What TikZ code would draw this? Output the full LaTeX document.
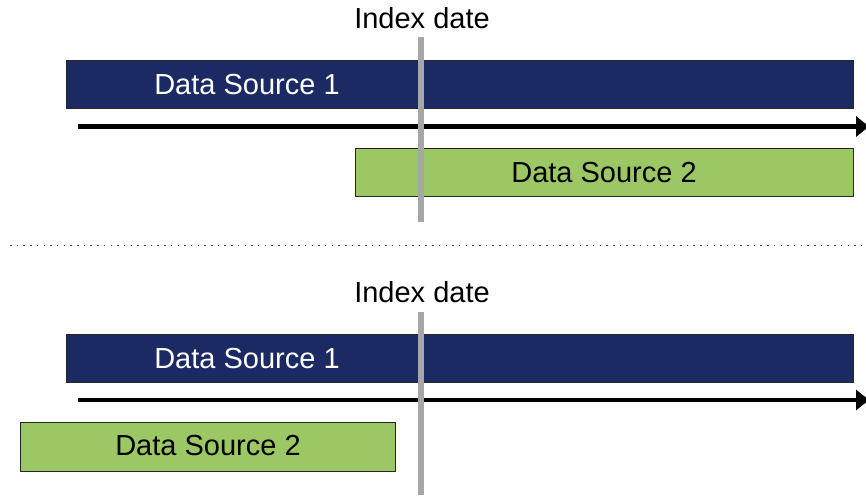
\documentclass[tikz,border=0pt]{standalone}
\usepackage{fontspec}
\setmainfont{Liberation Sans}
\usetikzlibrary{arrows.meta}
\definecolor{navy}{HTML}{1B2A62}
\definecolor{leaf}{HTML}{9BC764}
\definecolor{marker}{HTML}{A6A6A6}
\tikzset{
  bar/.style={draw=black!85, line width=1pt, anchor=north west, inner sep=0pt},
  navybar/.style={bar, fill=navy},
  leafbar/.style={bar, fill=leaf},
  label/.style={font=\fontsize{29}{32}\selectfont},
  timeline/.style={line width=4.5pt, -{Triangle[length=13pt, width=20pt]}},
  indexline/.style={draw=marker, line width=6pt},
}
\begin{document}
\begin{tikzpicture}[x=1pt, y=-1pt]
  \useasboundingbox (0,0) rectangle (866,495);

  % upper scenario: source 2 starts before the index date
  \node[navybar, minimum width=787pt, minimum height=48pt] (s1a) at (66,60) {};
  \node[label, text=white] (t1a) at (247,85) {Data Source 1};
  \coordinate (a0) at (78,126.5);
  \coordinate (a1) at (869,126.5);
  \draw[timeline] (a0) -- (a1);
  \node[leafbar, minimum width=498pt, minimum height=48pt] (s2a) at (355,148) {};
  \node[label] (t2a) at (604,173) {Data Source 2};
  \node[label] (ia) at (422,18) {Index date};
  \coordinate (ga0) at (421,37);
  \coordinate (ga1) at (421,222);
  \draw[indexline] (ga0) -- (ga1);

  % separator
  \coordinate (d0) at (10,245.5);
  \coordinate (d1) at (866,245.5);
  \draw[black!70, line width=1.5pt, dash pattern=on 1.5pt off 5.2pt] (d0) -- (d1);

  % lower scenario: source 2 ends after the index date
  \node[navybar, minimum width=787pt, minimum height=48pt] (s1b) at (66,334) {};
  \node[label, text=white] (t1b) at (247,359) {Data Source 1};
  \coordinate (b0) at (78,400);
  \coordinate (b1) at (869,400);
  \draw[timeline] (b0) -- (b1);
  \node[leafbar, minimum width=375pt, minimum height=49pt] (s2b) at (20,422) {};
  \node[label] (t2b) at (208,446) {Data Source 2};
  \node[label] (ib) at (422,292) {Index date};
  \coordinate (gb0) at (421,312);
  \coordinate (gb1) at (421,495);
  \draw[indexline] (gb0) -- (gb1);
\end{tikzpicture}
\end{document}
